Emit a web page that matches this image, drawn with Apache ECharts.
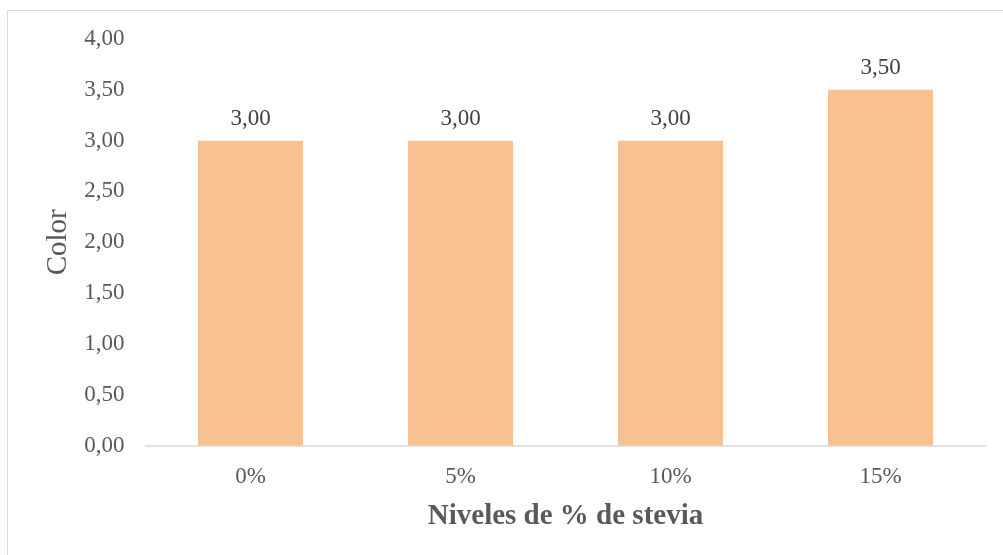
<!DOCTYPE html>
<html>
<head>
<meta charset="utf-8">
<script src="https://cdn.jsdelivr.net/npm/echarts@6/dist/echarts.min.js"></script>
<style>
  html, body { margin: 0; padding: 0; background: #fff; }
  #chart { width: 1003px; height: 555px; }
</style>
</head>
<body>
<div id="chart"></div>
<script>
// Stevia levels and the colour score for each one
const categories = ['0%', '5%', '10%', '15%'];
const colorScores = [3.0, 3.0, 3.0, 3.5];
const yTicks = { min: 0, max: 4, step: 0.5 };

const serif = '"Liberation Serif", "Times New Roman", serif';
const fmt = v => v.toFixed(2).replace('.', ',');

const chart = echarts.init(document.getElementById('chart'), null, { renderer: 'canvas' });

chart.setOption({
  animation: false,
  backgroundColor: '#ffffff',
  graphic: [{
    type: 'rect',
    shape: { x: 7.5, y: 10.5, width: 1100, height: 700 },
    style: { fill: 'none', stroke: '#d9d9d9', lineWidth: 1 },
    silent: true
  }],
  grid: { left: 145.5, right: 17.5, top: 39, bottom: 109.5, containLabel: false },
  xAxis: {
    type: 'category',
    data: categories,
    name: 'Niveles de % de stevia',
    nameLocation: 'middle',
    nameGap: 57,
    nameTextStyle: { fontFamily: serif, fontSize: 29, fontWeight: 'bold', color: '#595959' },
    axisLine: { show: true, lineStyle: { color: '#d9d9d9', width: 1.5 } },
    axisTick: { show: false },
    axisLabel: { fontFamily: serif, fontSize: 23, color: '#595959', margin: 20 }
  },
  yAxis: {
    type: 'value',
    min: yTicks.min,
    max: yTicks.max,
    interval: yTicks.step,
    name: 'Color',
    nameLocation: 'middle',
    nameGap: 73,
    nameTextStyle: { fontFamily: serif, fontSize: 29, color: '#595959' },
    axisLine: { show: false },
    axisTick: { show: false },
    splitLine: { show: false },
    axisLabel: { fontFamily: serif, fontSize: 23, color: '#595959', margin: 21, formatter: fmt }
  },
  series: [{
    type: 'bar',
    data: colorScores,
    barWidth: '50%',
    itemStyle: { color: '#F8C191' },
    label: {
      show: true,
      position: 'top',
      distance: 10,
      fontFamily: serif,
      fontSize: 23,
      color: '#404040',
      formatter: p => fmt(p.value)
    }
  }]
});
</script>
</body>
</html>
